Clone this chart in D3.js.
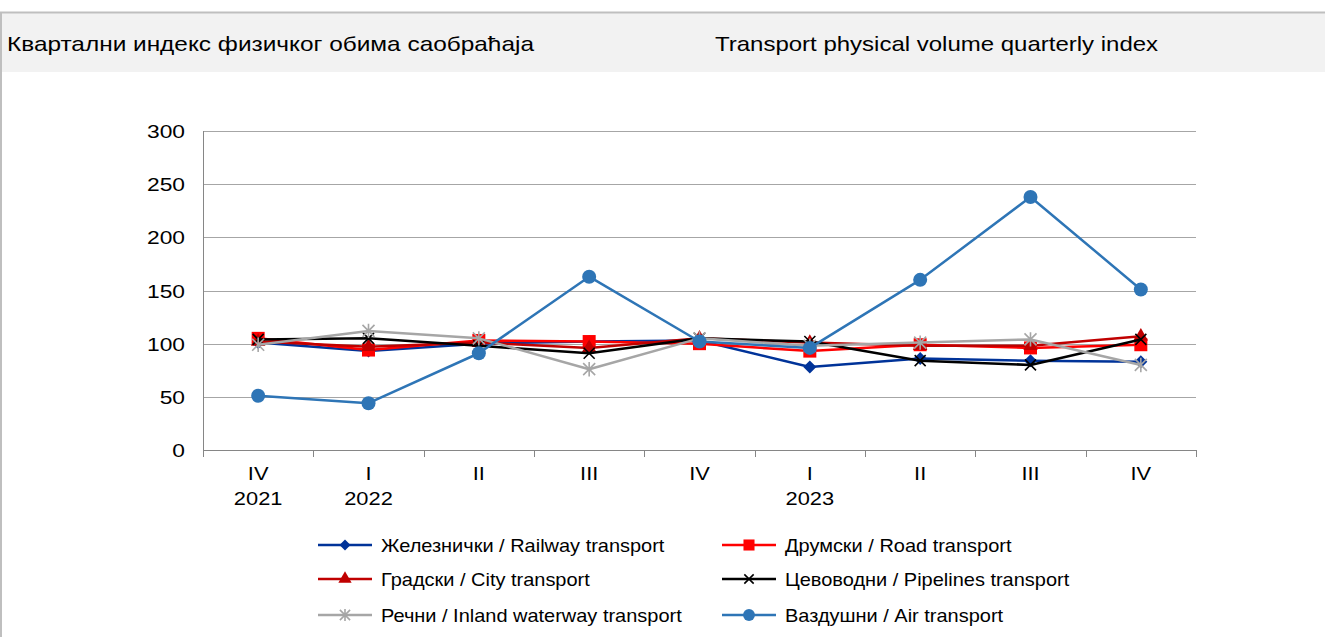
<!DOCTYPE html>
<html>
<head>
<meta charset="utf-8">
<script src="https://cdn.jsdelivr.net/npm/d3@7"></script>
<style>
  body { margin: 0; background: #fff; font-family: "Liberation Sans", Arial, sans-serif; }
</style>
</head>
<body>
<div id="chart"></div>
<script>
// quarters on the x axis
var quarters = ['IV', 'I', 'II', 'III', 'IV', 'I', 'II', 'III', 'IV'];
var years = ['2021', '2022', '', '', '', '2023', '', '', ''];
var yTicks = [0, 50, 100, 150, 200, 250, 300];

var railway   = [101, 93, 100, 102, 103, 78, 86, 84, 83];
var road      = [105, 94, 103, 102, 100, 93, 99, 96, 99];
var city      = [102, 97, 101, 96, 105, 101, 98, 98, 107];
var pipelines = [104, 105, 98, 91, 105, 102, 84, 80, 104];
var waterway  = [99, 112, 105, 76, 105, 98, 101, 104, 80];
var air       = [51, 44, 91, 163, 102, 96, 160, 238, 151];

var series = [
  {name: 'Железнички / Railway transport', values: railway, color: '#003399', marker: 'diamond'},
  {name: 'Друмски / Road transport', values: road, color: '#ff0000', marker: 'square'},
  {name: 'Градски / City transport', values: city, color: '#c00000', marker: 'triangle'},
  {name: 'Цевоводни / Pipelines transport', values: pipelines, color: '#000000', marker: 'cross'},
  {name: 'Речни / Inland waterway transport', values: waterway, color: '#a6a6a6', marker: 'star'},
  {name: 'Ваздушни / Air transport', values: air, color: '#2e75b6', marker: 'circle'}
];

var W = 1325, H = 637;
var svg = d3.select('#chart').append('svg').attr('width', W).attr('height', H);

// text stretched a bit horizontally, like the original
function label(g, tx, ty, str, size, sx, anchor) {
  return g.append('text')
    .attr('transform', 'translate(' + tx + ',' + ty + ') scale(' + sx + ',1)')
    .attr('text-anchor', anchor || 'start')
    .style('font-size', size + 'px').style('fill', '#000')
    .text(str);
}

// header band
svg.append('rect').attr('x', 0).attr('y', 12).attr('width', W).attr('height', 60).style('fill', '#f2f2f2');
svg.append('line').attr('x1', 0).attr('x2', W).attr('y1', 12.5).attr('y2', 12.5).style('stroke', '#bfbfbf').style('stroke-width', 2);
svg.append('line').attr('x1', 1).attr('x2', 1).attr('y1', 12).attr('y2', H).style('stroke', '#bfbfbf').style('stroke-width', 2);
label(svg, 7, 51, 'Квартални индекс физичког обима саобраћаја', 20, 1.22);
label(svg, 715, 51, 'Transport physical volume quarterly index', 20, 1.2);

var pLeft = 203, pRight = 1196, pTop = 131, pBottom = 450;
var x = d3.scaleBand().domain(d3.range(quarters.length)).range([pLeft, pRight]);
var y = d3.scaleLinear().domain([0, 300]).range([pBottom, pTop]);

// gridlines
svg.append('g').selectAll('line').data(yTicks.slice(1)).enter().append('line')
  .attr('x1', pLeft).attr('x2', pRight)
  .attr('y1', function(d){ return Math.round(y(d)) + 0.5; })
  .attr('y2', function(d){ return Math.round(y(d)) + 0.5; })
  .style('stroke', '#a6a6a6').style('stroke-width', 1);

// y tick labels
var yl = svg.append('g');
yTicks.forEach(function(t) {
  label(yl, 185, y(t) + 7, String(t), 19, 1.2, 'end');
});
svg.append('line').attr('x1', pLeft + 0.5).attr('x2', pLeft + 0.5).attr('y1', pTop).attr('y2', pBottom + 7)
  .style('stroke', '#868686').style('stroke-width', 1);

// x axis
svg.append('line').attr('x1', pLeft).attr('x2', pRight).attr('y1', pBottom + 0.5).attr('y2', pBottom + 0.5)
  .style('stroke', '#868686').style('stroke-width', 1);
svg.append('g').selectAll('line').data(d3.range(quarters.length + 1)).enter().append('line')
  .attr('x1', function(d){ return Math.round(pLeft + d * x.step()) + 0.5; })
  .attr('x2', function(d){ return Math.round(pLeft + d * x.step()) + 0.5; })
  .attr('y1', pBottom).attr('y2', pBottom + 7)
  .style('stroke', '#868686').style('stroke-width', 1);

var xl = svg.append('g');
quarters.forEach(function(q, i) {
  var cx = x(i) + x.bandwidth() / 2;
  label(xl, cx, 480, q, 19, 1.15, 'middle');
  if (years[i]) label(xl, cx, 505, years[i], 19, 1.15, 'middle');
});

function drawMarker(g, type, color, cx, cy, scale) {
  var s = scale || 1;
  if (type === 'diamond') {
    var d = 6.5 * s;
    g.append('path').attr('d', 'M' + cx + ',' + (cy - d) + 'L' + (cx + d) + ',' + cy + 'L' + cx + ',' + (cy + d) + 'L' + (cx - d) + ',' + cy + 'Z')
      .style('fill', color);
  } else if (type === 'square') {
    var h = 6.5 * s;
    g.append('rect').attr('x', cx - h).attr('y', cy - h).attr('width', 2 * h).attr('height', 2 * h).style('fill', color);
  } else if (type === 'triangle') {
    g.append('path').attr('d', d3.symbol(d3.symbolTriangle, 90 * s)())
      .attr('transform', 'translate(' + cx + ',' + cy + ')').style('fill', color);
  } else if (type === 'cross') {
    var c = 5.5 * s;
    g.append('path').attr('d', 'M' + (cx - c) + ',' + (cy - c) + 'L' + (cx + c) + ',' + (cy + c) + 'M' + (cx - c) + ',' + (cy + c) + 'L' + (cx + c) + ',' + (cy - c))
      .style('stroke', color).style('stroke-width', 1.6).style('fill', 'none');
  } else if (type === 'star') {
    var r = 6 * s;
    var p = 'M' + (cx - r) + ',' + (cy - r) + 'L' + (cx + r) + ',' + (cy + r) +
      'M' + (cx - r) + ',' + (cy + r) + 'L' + (cx + r) + ',' + (cy - r) +
      'M' + cx + ',' + (cy - r * 1.2) + 'L' + cx + ',' + (cy + r * 1.2);
    g.append('path').attr('d', p).style('stroke', color).style('stroke-width', 1.6).style('fill', 'none');
  } else if (type === 'circle') {
    g.append('circle').attr('cx', cx).attr('cy', cy).attr('r', 7 * s).style('fill', color);
  }
}

var line = d3.line()
  .x(function(d, i){ return x(i) + x.bandwidth() / 2; })
  .y(function(d){ return y(d); });

series.forEach(function(s) {
  var g = svg.append('g');
  g.append('path').datum(s.values).attr('d', line)
    .style('fill', 'none').style('stroke', s.color).style('stroke-width', 2.5).style('stroke-linejoin', 'round');
  s.values.forEach(function(v, i) {
    drawMarker(g, s.marker, s.color, x(i) + x.bandwidth() / 2, y(v));
  });
});

// legend
var legX = [318, 722], legY = [545, 579, 615];
series.forEach(function(s, i) {
  var lx = legX[i % 2], ly = legY[Math.floor(i / 2)];
  var g = svg.append('g');
  g.append('line').attr('x1', lx).attr('x2', lx + 54).attr('y1', ly).attr('y2', ly)
    .style('stroke', s.color).style('stroke-width', 2.5);
  drawMarker(g, s.marker, s.color, lx + 27, ly, 0.85);
  label(g, lx + 63, ly + 7, s.name, 18, 1.11);
});
</script>
</body>
</html>
